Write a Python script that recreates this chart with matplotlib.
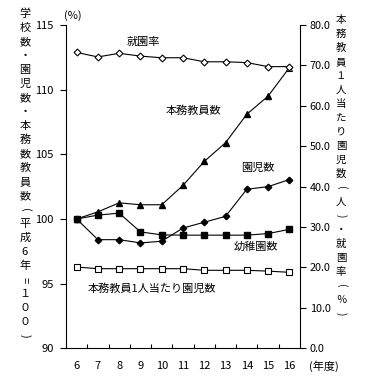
# 幼稚園の推移（学校数・園児数・本務教員数の指数と就園率など）
import matplotlib
matplotlib.use('Agg')
import matplotlib.pyplot as plt
import numpy as np

plt.rcParams['font.family'] = ['Noto Sans CJK JP', 'DejaVu Sans']

# 年度（平成）
nendo = ['6', '7', '8', '9', '10', '11', '12', '13', '14', '15', '16']

# 左軸：平成6年＝100 の指数
youchien_su = [100.0, 100.3, 100.45, 99.0, 98.77, 98.75, 98.75, 98.75, 98.75, 98.87, 99.2]
enji_su = [100.0, 98.4, 98.4, 98.15, 98.28, 99.3, 99.75, 100.2, 102.3, 102.5, 103.05]
kyoin_su = [100.0, 100.55, 101.25, 101.1, 101.1, 102.6, 104.45, 105.9, 108.1, 109.5, 111.7]

# 右軸：就園率（%）と本務教員1人当たり園児数（人）
shuenritsu = [73.2, 72.1, 73.0, 72.3, 71.9, 71.9, 70.9, 70.9, 70.7, 69.7, 69.7]
hitori_atari = [20.1, 19.7, 19.7, 19.7, 19.7, 19.7, 19.3, 19.3, 19.3, 19.1, 18.8]

W, H = 373, 386
fig = plt.figure(figsize=(W / 100, H / 100), dpi=100)

# 軸の位置（ピクセルで指定）
x0, x1, y_top, y_bot = 66, 300, 25, 348.3
ax = fig.add_axes([x0 / W, (H - y_bot) / H, (x1 - x0) / W, (y_bot - y_top) / H])
ax2 = ax.twinx()

def px(x, y):
    return x / W, 1 - y / H

x = np.arange(len(nendo))
lw = 0.8

# 左軸の系列
ax.plot(x, youchien_su, color='black', lw=lw, marker='s', ms=4.5,
        mfc='black', mec='black', zorder=3)
ax.plot(x, enji_su, color='black', lw=lw, marker='D', ms=3.3,
        mfc='black', mec='black', zorder=3)
ax.plot(x, kyoin_su, color='black', lw=lw, marker='^', ms=5,
        mfc='black', mec='black', markevery=list(range(len(x) - 1)), zorder=3)
ax.plot(x[-1:], kyoin_su[-1:], ls='none', marker='^', ms=5,
        mfc='white', mec='black', mew=0.8, zorder=4)

# 右軸の系列
ax2.plot(x, shuenritsu, color='black', lw=lw, marker='D', ms=3.5,
         mfc='white', mec='black', mew=0.8, zorder=3)
ax2.plot(x, hitori_atari, color='black', lw=lw, marker='s', ms=4,
         mfc='white', mec='black', mew=0.8, zorder=3)

# 軸の設定
ax.set_xlim(-0.5, len(nendo) - 0.5)
ax.set_ylim(90, 115)
ax.set_yticks([90, 95, 100, 105, 110, 115])
ax2.set_ylim(0, 80)
ax2.set_yticks(np.arange(0, 81, 10))
ax2.set_yticklabels([f'{v:.1f}' for v in np.arange(0, 81, 10)])

ax.set_xticks(x)
ax.set_xticklabels(nendo)
ax.set_xticks(np.arange(0.5, len(nendo) - 0.5, 1), minor=True)
ax.tick_params(axis='x', which='major', length=0, pad=9, labelsize=8)
ax.tick_params(axis='x', which='minor', direction='in', length=3, width=0.8)
ax.tick_params(axis='y', direction='out', length=4, width=0.8, pad=5, labelsize=8)
ax2.tick_params(axis='y', direction='out', length=4, width=0.8, pad=3, labelsize=7.8)

for a in (ax, ax2):
    a.spines['top'].set_visible(False)
    for s in ('left', 'right', 'bottom'):
        a.spines[s].set_linewidth(0.8)
ax.spines['right'].set_visible(False)
ax2.spines['left'].set_visible(False)
ax2.spines['bottom'].set_visible(False)

# 系列名
fs = 8
fig.text(*px(143, 42), '就園率', fontsize=fs, ha='center', va='center')
fig.text(*px(193, 111), '本務教員数', fontsize=fs, ha='center', va='center')
fig.text(*px(258, 168), '園児数', fontsize=fs, ha='center', va='center')
fig.text(*px(256, 247), '幼稚園数', fontsize=fs, ha='center', va='center')
fig.text(*px(152, 289), '本務教員1人当たり園児数', fontsize=fs, ha='center', va='center')
fig.text(*px(73, 16), '(%)', fontsize=fs, ha='center', va='center')
fig.text(*px(324, 366), '(年度)', fontsize=fs, ha='center', va='center')

# 縦書きの軸ラベル（括弧と等号は横に倒す）
def tategaki(text, xpix, ypix, step=14, size=fs):
    for i, ch in enumerate(text):
        rot = -90 if ch in '()=' else 0
        fig.text(*px(xpix, ypix + i * step), ch, fontsize=size,
                 ha='center', va='center', rotation=rot)

tategaki('学校数・園児数・本務数教員数(平成6年=１００)', 25, 14)
tategaki('本務教員１人当たり園児数(人)・就園率(％)', 341, 20, size=7.5)

fig.savefig('out.png', dpi=100)
